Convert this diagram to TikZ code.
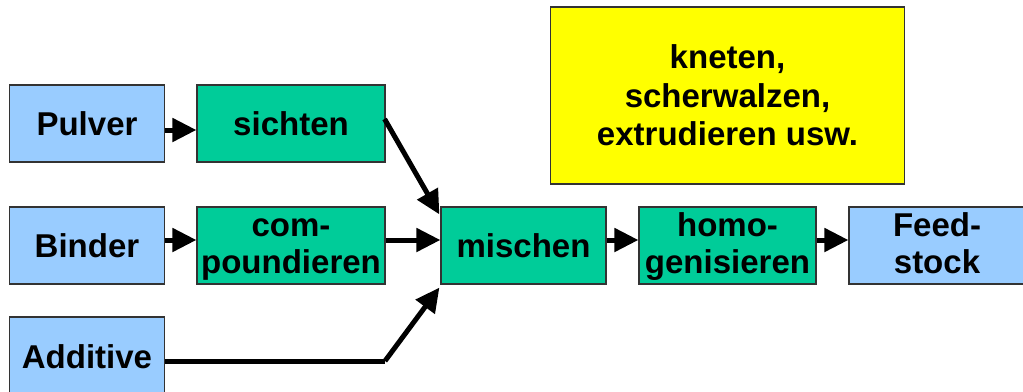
\documentclass[tikz,border=0pt]{standalone}
\usepackage{fontspec}
\setmainfont{Liberation Sans}
\usetikzlibrary{arrows.meta}
\definecolor{boxblue}{HTML}{99CCFF}
\definecolor{boxgreen}{HTML}{00CC99}
\definecolor{boxyellow}{HTML}{FFFF00}
\definecolor{edgegrey}{HTML}{333333}
\newcommand{\twolines}[2]{\raisebox{9pt}[0pt][0pt]{\begin{tabular}[t]{@{}c@{}}#1\\#2\end{tabular}}}
\tikzset{
  proc/.style={draw=edgegrey, line width=1.2pt, inner sep=0pt, align=center,
    font=\fontsize{33}{37}\selectfont\bfseries},
  bluebox/.style={proc, fill=boxblue},
  greenbox/.style={proc, fill=boxgreen},
  flow/.style={line width=5pt, -{Triangle[length=24pt,width=23pt]}},
  plainline/.style={line width=5pt}
}
\begin{document}
\begin{tikzpicture}[x=1pt,y=-1pt]
\clip (0,0) rectangle (1023,391);
% boxes
\node[bluebox, minimum width=155pt, minimum height=77pt] (pulver) at (87,123.5) {Pulver};
\node[greenbox, minimum width=188pt, minimum height=77pt] (sichten) at (291,123.5) {sichten};
\node[bluebox, minimum width=155pt, minimum height=77pt] (binder) at (87,245.5) {Binder};
\node[greenbox, minimum width=188pt, minimum height=77pt] (compound) at (291,245.5) {\twolines{com-}{poundieren}};
\node[bluebox, minimum width=155pt, minimum height=80pt] (additive) at (87,357) {Additive};
\node[greenbox, minimum width=165pt, minimum height=77pt] (mischen) at (523.5,245.5) {mischen};
\node[greenbox, minimum width=177pt, minimum height=77pt] (homo) at (727.5,245.5) {\twolines{homo-}{genisieren}};
\node[bluebox, minimum width=176pt, minimum height=77pt] (feed) at (937,245.5) {\twolines{Feed-}{stock}};
\node[proc, fill=boxyellow, minimum width=354pt, minimum height=177pt,
  font=\fontsize{33}{38.5}\selectfont\bfseries] (yellow) at (727.5,95.5)
  {kneten,\\scherwalzen,\\extrudieren usw.};
% connectors
\draw[flow] ([yshift=-6.5pt]pulver.east) -- ([yshift=-6.5pt]sichten.west);
\draw[flow] ([yshift=5.5pt]binder.east) -- ([yshift=5.5pt]compound.west);
\draw[flow] ([yshift=5.5pt]compound.east) -- ([yshift=5.5pt]mischen.west);
\draw[flow] ([yshift=4.5pt,xshift=-1pt]sichten.east) -- ([yshift=-8pt,xshift=-1pt]mischen.north west);
\coordinate (bend) at (385,361);
\draw[plainline] ([yshift=-4pt]additive.east) -- (bend);
\draw[flow] (bend) -- ([yshift=-3pt,xshift=-1pt]mischen.south west);
\draw[flow] ([yshift=5.5pt]mischen.east) -- ([yshift=5.5pt]homo.west);
\draw[flow] ([yshift=5.5pt]homo.east) -- ([yshift=5.5pt]feed.west);
\end{tikzpicture}
\end{document}
